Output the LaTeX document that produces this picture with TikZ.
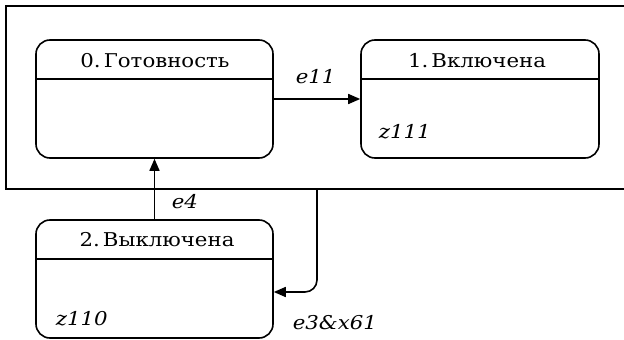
\documentclass[tikz,border=0pt]{standalone}
\usepackage{fontspec}
\setmainfont{DejaVu Serif}[FakeStretch=1.12]
\usetikzlibrary{arrows.meta}
\begin{document}
\begin{tikzpicture}[x=1pt,y=-1pt,line width=1.6pt,
  state/.style={draw,rounded corners=14pt,minimum width=237pt,minimum height=118pt,inner sep=0pt},
  ttl/.style={anchor=base,font=\fontsize{19}{22}\selectfont,inner sep=0pt},
  lbl/.style={anchor=base west,font=\fontsize{19}{22}\selectfont\itshape,inner sep=0pt},
  arr/.style={-{Triangle[length=12pt,width=10pt]}}]
\clip (0,0) rectangle (624,340);
\useasboundingbox (0,0) rectangle (624,340);
\draw (6,6) rectangle (640,189);
\node[state] (s0) at (154.5,99) {};
\node[state,minimum width=238pt] (s1) at (480,99) {};
\node[state] (s2) at (154.5,279) {};
\draw (s0.west |- 0,79) -- (s0.east |- 0,79);
\draw (s1.west |- 0,79) -- (s1.east |- 0,79);
\draw (s2.west |- 0,259) -- (s2.east |- 0,259);
\node[ttl] (t0) at (155,67) {0.\,Готовность};
\node[ttl] (t1) at (477,67) {1.\,Включена};
\node[ttl] (t2) at (157,246) {2.\,Выключена};
\node[lbl] (z1) at (378,138) {z111};
\node[lbl] (z2) at (55,325) {z110};
\draw[arr] (s0.east) -- (s1.west);
\node[lbl] (l11) at (295,83) {e11};
\draw[arr] (s2.north) -- (s0.south);
\node[lbl] (l4) at (171,208) {e4};
\coordinate (c) at (317,189);
\draw[arr,rounded corners=12pt] (c) |- ([yshift=-13pt]s2.east);
\node[lbl] (l3) at (292,329) {e3\&x61};
\end{tikzpicture}
\end{document}
